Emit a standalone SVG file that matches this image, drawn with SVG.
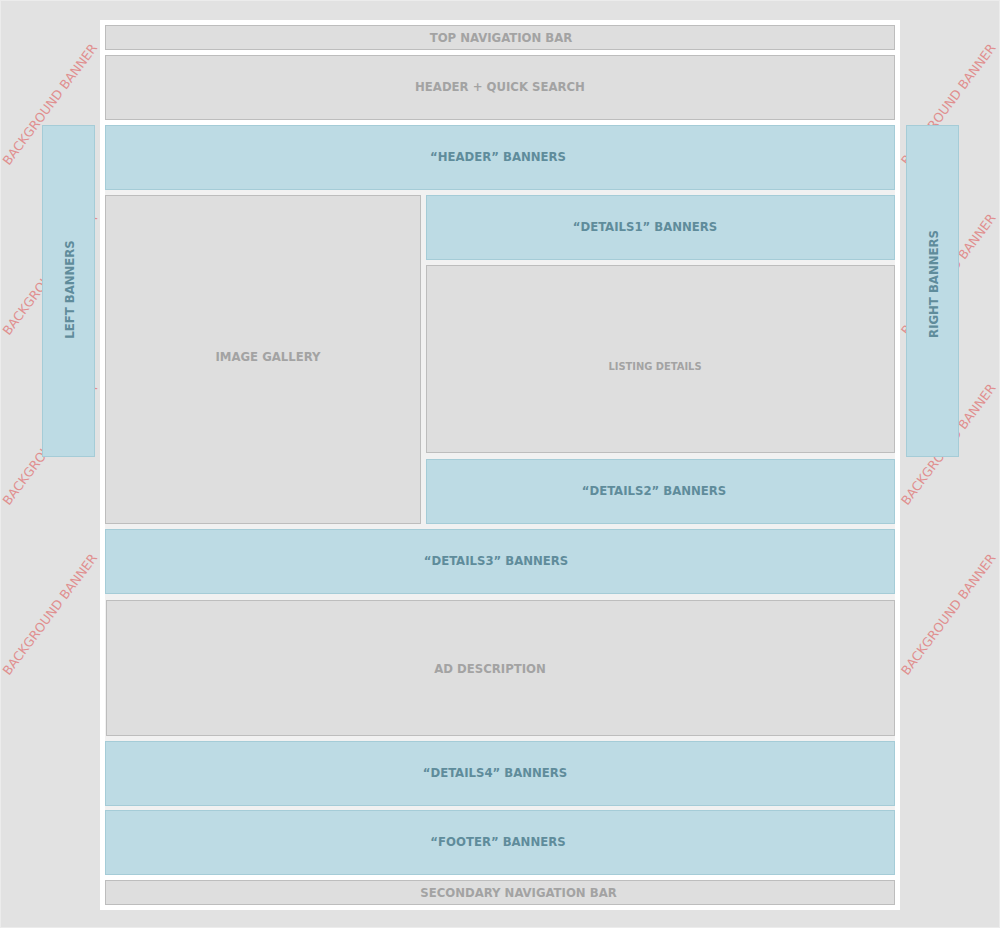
<svg xmlns="http://www.w3.org/2000/svg" width="1000" height="928" viewBox="0 0 1000 928">
<style>
.g{fill:#dedede;stroke:#bdbdbd;stroke-width:1}
.b{fill:#bddbe4;stroke:#a5ccd7;stroke-width:1}
.t{font-family:"DejaVu Sans Condensed","DejaVu Sans",sans-serif;font-weight:bold;font-size:13px;text-anchor:middle}
.tg{fill:#a3a3a3}
.tb{fill:#5f8c9b}
.bg{font-family:"DejaVu Sans",sans-serif;font-size:12.6px;fill:#e08f8f}
</style>
<rect x="0.5" y="0.5" width="999" height="927" fill="#e2e2e2" stroke="#ececec"/>
<g id="background-banners">
<text class="bg" transform="translate(9,166) rotate(-53)">BACKGROUND BANNER</text>
<text class="bg" transform="translate(9,336) rotate(-53)">BACKGROUND BANNER</text>
<text class="bg" transform="translate(9,506) rotate(-53)">BACKGROUND BANNER</text>
<text class="bg" transform="translate(9,676) rotate(-53)">BACKGROUND BANNER</text>
<text class="bg" transform="translate(907.5,166) rotate(-53)">BACKGROUND BANNER</text>
<text class="bg" transform="translate(907.5,336) rotate(-53)">BACKGROUND BANNER</text>
<text class="bg" transform="translate(907.5,506) rotate(-53)">BACKGROUND BANNER</text>
<text class="bg" transform="translate(907.5,676) rotate(-53)">BACKGROUND BANNER</text>
</g>
<rect id="page" x="100" y="20" width="800" height="890" fill="#ffffff"/>
<rect x="105" y="190" width="790" height="685" fill="#f1f1f1"/>
<g id="left-banners"><rect class="b" x="42.5" y="125.5" width="52" height="331"/><text class="t tb" transform="translate(74,289.5) rotate(-90)">LEFT BANNERS</text></g>
<g id="right-banners"><rect class="b" x="906.5" y="125.5" width="52" height="331"/><text class="t tb" transform="translate(938,284) rotate(-90)">RIGHT BANNERS</text></g>
<g id="top-nav"><rect class="g" x="105.5" y="25.5" width="789" height="24"/><text class="t tg" x="501" y="42">TOP NAVIGATION BAR</text></g>
<g id="header-search"><rect class="g" x="105.5" y="55.5" width="789" height="64"/><text class="t tg" x="500" y="91">HEADER + QUICK SEARCH</text></g>
<g id="header-banners"><rect class="b" x="105.5" y="125.5" width="789" height="64"/><text class="t tb" x="498" y="161">“HEADER” BANNERS</text></g>
<g id="image-gallery"><rect class="g" x="105.5" y="195.5" width="315" height="328"/><text class="t tg" x="268" y="361">IMAGE GALLERY</text></g>
<g id="details1"><rect class="b" x="426.5" y="195.5" width="468" height="64"/><text class="t tb" x="645" y="231">“DETAILS1” BANNERS</text></g>
<g id="listing-details"><rect class="g" x="426.5" y="265.5" width="468" height="187"/><text class="t tg" x="655" y="370" style="font-size:11px">LISTING DETAILS</text></g>
<g id="details2"><rect class="b" x="426.5" y="459.5" width="468" height="64"/><text class="t tb" x="654" y="495">“DETAILS2” BANNERS</text></g>
<g id="details3"><rect class="b" x="105.5" y="529.5" width="789" height="64"/><text class="t tb" x="496" y="565">“DETAILS3” BANNERS</text></g>
<g id="ad-description"><rect class="g" x="106.5" y="600.5" width="788" height="135"/><text class="t tg" x="490" y="673">AD DESCRIPTION</text></g>
<g id="details4"><rect class="b" x="105.5" y="741.5" width="789" height="64"/><text class="t tb" x="495" y="777">“DETAILS4” BANNERS</text></g>
<g id="footer-banners"><rect class="b" x="105.5" y="810.5" width="789" height="64"/><text class="t tb" x="498" y="846">“FOOTER” BANNERS</text></g>
<g id="secondary-nav"><rect class="g" x="105.5" y="880.5" width="789" height="24"/><text class="t tg" x="518.5" y="897">SECONDARY NAVIGATION BAR</text></g>
<g id="connectors"/>
</svg>
